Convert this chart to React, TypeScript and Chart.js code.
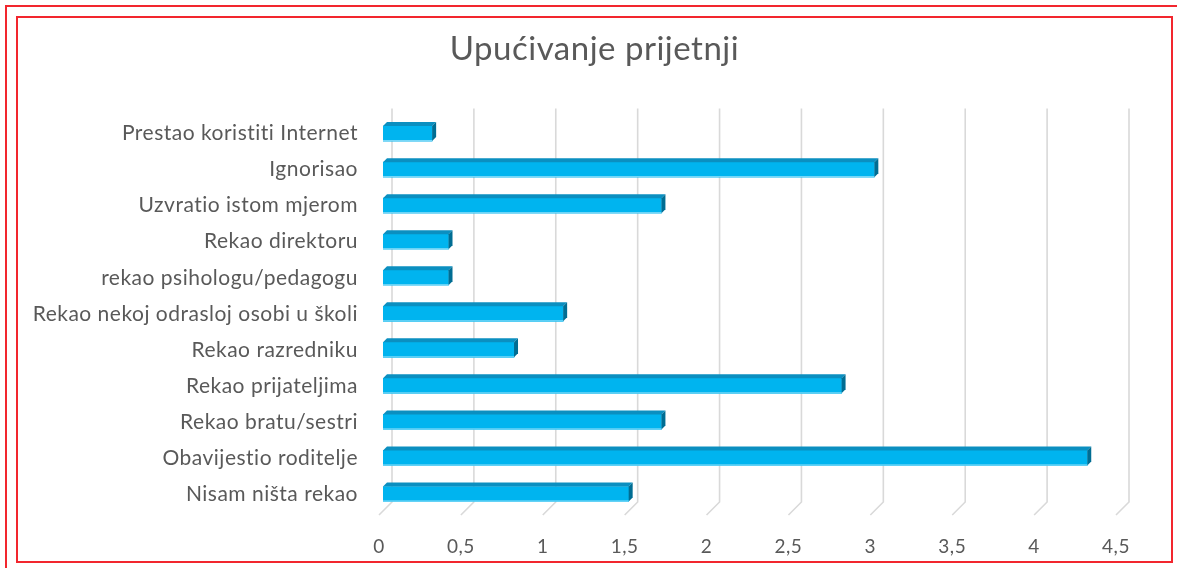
import React, { useEffect, useRef } from "react";
import { Chart, registerables } from "chart.js";

Chart.register(...registerables);

const categories: string[] = [
  "Prestao koristiti Internet",
  "Ignorisao",
  "Uzvratio istom mjerom",
  "Rekao direktoru",
  "rekao psihologu/pedagogu",
  "Rekao nekoj odrasloj osobi u školi",
  "Rekao razredniku",
  "Rekao prijateljima",
  "Rekao bratu/sestri",
  "Obavijestio roditelje",
  "Nisam ništa rekao",
];

const values: number[] = [0.3, 3, 1.7, 0.4, 0.4, 1.1, 0.8, 2.8, 1.7, 4.3, 1.5];

const xTicks: number[] = [0, 0.5, 1, 1.5, 2, 2.5, 3, 3.5, 4, 4.5];

const titleText = "Upućivanje prijetnji";

const FONT = "Lato, 'Open Sans', sans-serif";
const TEXT = "#595959";
const GRID = "#d9d9d9";
const FRONT = "#00b4ef";
const TOP = "#0b8fc0";
const SIDE = "#006d93";
const D = 4; // bar depth
const WX = 9; // wall offset right
const FX = -4; // floor front offset
const WTOP = 7; // gridline extends above area

const spacing = {
  id: "spacing",
  beforeInit(chart: any) {
    chart.ctx.letterSpacing = "0.5px";
  },
  beforeUpdate(chart: any) {
    chart.ctx.letterSpacing = "0.5px";
  },
  beforeDraw(chart: any) {
    chart.ctx.letterSpacing = "0.5px";
  },
};

const centerTitle = {
  id: "centerTitle",
  afterLayout(chart: any) {
    const tb = chart.titleBlock;
    if (tb) {
      tb.left = 0;
      tb.right = chart.width;
    }
  },
};

const threeD = {
  id: "threeD",
  beforeDatasetsDraw(chart: any) {
    const { ctx, chartArea, scales } = chart;
    const xs = scales.x;
    ctx.save();
    ctx.strokeStyle = GRID;
    ctx.lineWidth = 1.6;
    xTicks.forEach((v) => {
      const p = xs.getPixelForValue(v);
      ctx.beginPath();
      ctx.moveTo(p + WX, chartArea.top - WTOP);
      ctx.lineTo(p + WX, chartArea.bottom - 10);
      ctx.lineTo(p + FX, chartArea.bottom + 3);
      ctx.stroke();
    });
    ctx.restore();
  },
  afterDatasetsDraw(chart: any) {
    const { ctx } = chart;
    const meta = chart.getDatasetMeta(0);
    ctx.save();
    meta.data.forEach((bar: any) => {
      const { x, y, base, height } = bar.getProps(["x", "y", "base", "height"], true);
      const top = y - height / 2;
      const bottom = y + height / 2;
      ctx.fillStyle = TOP;
      ctx.beginPath();
      ctx.moveTo(base, top);
      ctx.lineTo(base + D, top - D);
      ctx.lineTo(x + D, top - D);
      ctx.lineTo(x, top);
      ctx.closePath();
      ctx.fill();
      ctx.fillStyle = SIDE;
      ctx.beginPath();
      ctx.moveTo(x, top);
      ctx.lineTo(x + D, top - D);
      ctx.lineTo(x + D, bottom - D);
      ctx.lineTo(x, bottom);
      ctx.closePath();
      ctx.fill();
      ctx.strokeStyle = "rgba(150,225,250,0.9)";
      ctx.lineWidth = 1;
      ctx.beginPath();
      ctx.moveTo(base, bottom - 0.5);
      ctx.lineTo(x, bottom - 0.5);
      ctx.stroke();
    });
    ctx.restore();
  },
};

export default function App() {
  const ref = useRef<HTMLCanvasElement | null>(null);

  useEffect(() => {
    if (!ref.current) return;
    const chart = new Chart(ref.current, {
      type: "bar",
      data: {
        labels: categories,
        datasets: [
          {
            data: values,
            backgroundColor: FRONT,
            borderWidth: 0,
            barThickness: 15,
          },
        ],
      },
      options: {
        indexAxis: "y",
        responsive: false,
        animation: false,
        layout: { padding: { left: 0, right: 51, top: 0, bottom: 0 } },
        plugins: {
          legend: { display: false },
          tooltip: { enabled: false },
          title: {
            display: true,
            text: titleText,
            color: TEXT,
            font: { family: FONT, size: 33, weight: "normal" },
            padding: { top: 12, bottom: 46 },
          },
        },
        scales: {
          x: {
            min: 0,
            max: 4.5,
            grid: { display: false, drawTicks: false },
            border: { display: false },
            afterFit: (s: any) => {
              s.height = 49;
            },
            afterBuildTicks: (s: any) => {
              s.ticks = xTicks.map((v) => ({ value: v }));
            },
            ticks: {
              color: TEXT,
              font: { family: FONT, size: 19 },
              padding: 23,
              labelOffset: -4,
              maxRotation: 0,
              callback: (v: any) => String(v).replace(".", ","),
            },
          },
          y: {
            grid: { display: false, drawTicks: false },
            border: { display: false },
            afterFit: (s: any) => {
              s.width = 365;
            },
            ticks: {
              color: TEXT,
              font: { family: FONT, size: 21 },
              padding: 25,
            },
          },
        },
      },
      plugins: [spacing, centerTitle, threeD],
    });
    return () => chart.destroy();
  }, []);

  return (
    <div style={{ position: "fixed", left: 0, top: 0, width: 1177, height: 568, overflow: "hidden", background: "#fff" }}>
      <div
        style={{
          position: "absolute",
          left: 5,
          top: 5,
          width: 1300,
          height: 700,
          border: "2px solid #f2262e",
        }}
      />
      <div
        style={{
          position: "absolute",
          left: 16,
          top: 16,
          width: 1153,
          height: 543,
          border: "2px solid #f2262e",
          background: "#fff",
        }}
      >
        <canvas ref={ref} width={1153} height={543} style={{ display: "block" }} />
      </div>
    </div>
  );
}
